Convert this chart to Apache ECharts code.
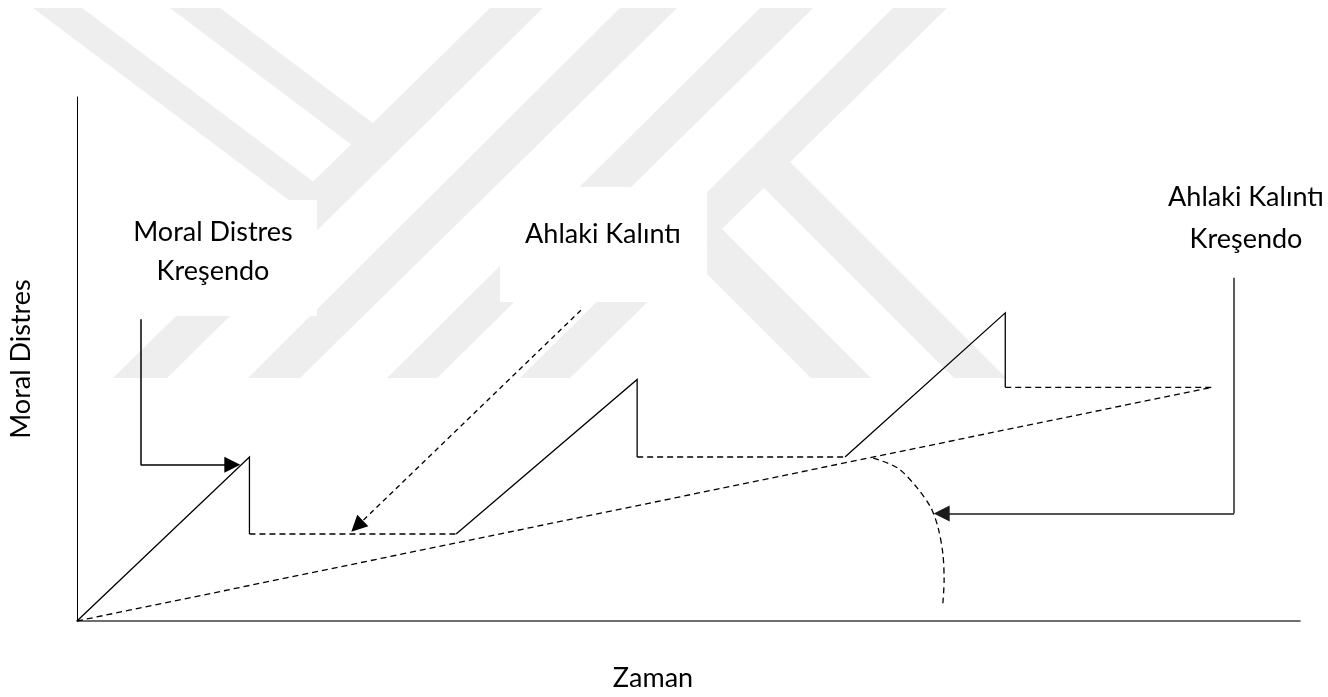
<!DOCTYPE html>
<html>
<head>
<meta charset="utf-8">
<script src="https://cdn.jsdelivr.net/npm/echarts@6/dist/echarts.min.js"></script>
<style>
  html, body { margin: 0; padding: 0; background: #fff; }
  #chart { width: 1328px; height: 697px; }
</style>
</head>
<body>
<div id="chart"></div>
<script>
// time axis 0..100, distress axis 0..100
const rampStartX = [0, 31.0, 62.8];
const peakX = [14.1, 45.8, 75.9];
const peakY = [31.3, 46.1, 58.8];
const plateauY = [16.6, 31.3, 44.6];
const plateauEndX = [31.0, 62.8, 92.8];
const trendLine = [[0, 0], [92.8, 44.6]];
const residueArrow = [[41.2, 59.3], [22.9, 18.1]];
const crescendoArrow = [[5.2, 57.6], [5.2, 29.8], [12.7, 29.8]];
const residueCrescendoArrow = [[94.6, 65.5], [94.6, 20.5], [70.7, 20.5]];
const arcX = [65.1, 67.1, 68.7, 69.8, 70.4, 70.8, 70.9, 70.8];
const arcY = [31.1, 29.2, 25.4, 21.7, 17.9, 12.8, 7.7, 3.4];

const FONT = 'Lato';
const INK = '#000000';

const rampStartY = [0, plateauY[0], plateauY[1]];

const ramps = peakX.map((x, i) => ({
  coords: [[rampStartX[i], rampStartY[i]], [x, peakY[i]], [x, plateauY[i]]]
}));
const plateaus = peakX.map((x, i) => ({
  coords: [[x, plateauY[i]], [plateauEndX[i], plateauY[i]]]
}));
plateaus.push({ coords: trendLine });

function elbow(points) {
  return points.slice(0, -1).map((p, i) => ({ coords: [p, points[i + 1]] }));
}

// background watermark (light grey logo bands) and white text boxes
const wm = '#eeeeee';
const watermark = [
  [[33, 8], [82, 8], [315, 183], [294, 204]],
  [[170, 8], [220, 8], [374, 124], [352, 145]],
  [[490, 8], [543, 8], [167, 378], [113, 378]],
  [[620, 8], [677, 8], [300, 378], [248, 378]],
  [[760, 8], [813, 8], [437, 378], [387, 378]],
  [[893, 8], [947, 8], [570, 378], [520, 378]],
  [[790, 162], [1006, 378], [954, 378], [763, 187]],
  [[720, 227], [871, 378], [811, 378], [694, 261]]
].map((pts) => ({
  type: 'polygon', z: -10, silent: true,
  shape: { points: pts }, style: { fill: wm }
}));

const boxes = [
  { x: 127, y: 200, width: 190, height: 116 },
  { x: 500, y: 187, width: 207, height: 115 }
].map((r) => ({
  type: 'rect', z: -5, silent: true, shape: r, style: { fill: '#ffffff' }
}));

const labelStyle = { fontFamily: FONT, fontSize: 27, fill: INK, textAlign: 'center', textVerticalAlign: 'middle' };
const labels = [
  { x: 213, y: 252, text: 'Moral Distres\nKreşendo', lineHeight: 39 },
  { x: 603, y: 234, text: 'Ahlaki Kalıntı', lineHeight: 39 },
  { x: 1246, y: 218, text: 'Ahlaki Kalıntı\nKreşendo', lineHeight: 42 }
].map((l) => ({
  type: 'text', z: 10, silent: true, x: l.x, y: l.y,
  style: Object.assign({}, labelStyle, { text: l.text, lineHeight: l.lineHeight })
}));

const chart = echarts.init(document.getElementById('chart'), null, { renderer: 'canvas' });
chart.setOption({
  animation: false,
  backgroundColor: '#ffffff',
  grid: { left: 75, right: 28, top: 97, bottom: 69 },
  xAxis: {
    type: 'value', min: 0, max: 100,
    name: 'Zaman', nameLocation: 'middle', nameGap: 44,
    nameTextStyle: { fontFamily: FONT, fontSize: 27, color: INK, padding: [0, 71, 0, 0] },
    axisLine: { show: true, lineStyle: { color: '#404040', width: 1.6 } },
    axisTick: { show: false }, axisLabel: { show: false }, splitLine: { show: false }
  },
  yAxis: {
    type: 'value', min: 0, max: 100,
    name: 'Moral Distres', nameLocation: 'middle', nameGap: 42, nameRotate: 90,
    nameTextStyle: { fontFamily: FONT, fontSize: 27, color: INK },
    axisLine: { show: true, lineStyle: { color: INK, width: 1 } },
    axisTick: { show: false }, axisLabel: { show: false }, splitLine: { show: false }
  },
  graphic: watermark.concat(boxes, labels),
  series: [
    {
      type: 'lines', coordinateSystem: 'cartesian2d', polyline: true,
      lineStyle: { color: INK, width: 1.3, opacity: 1, type: 'solid' },
      data: ramps
    },
    {
      type: 'lines', coordinateSystem: 'cartesian2d', polyline: true,
      lineStyle: { color: INK, width: 1.3, opacity: 1, type: [6, 4] },
      data: plateaus
    },
    {
      type: 'lines', coordinateSystem: 'cartesian2d',
      symbol: ['none', 'triangle'], symbolSize: 16,
      lineStyle: { color: INK, width: 1.3, opacity: 1, type: [5, 4] },
      data: elbow(residueArrow)
    },
    {
      type: 'lines', coordinateSystem: 'cartesian2d',
      symbol: ['none', 'none'],
      lineStyle: { color: INK, width: 1.5, opacity: 1 },
      data: elbow(crescendoArrow).slice(0, -1)
    },
    {
      type: 'lines', coordinateSystem: 'cartesian2d',
      symbol: ['none', 'triangle'], symbolSize: 16,
      lineStyle: { color: INK, width: 1.5, opacity: 1 },
      data: elbow(crescendoArrow).slice(-1)
    },
    {
      type: 'lines', coordinateSystem: 'cartesian2d',
      symbol: ['none', 'none'],
      lineStyle: { color: '#333333', width: 1.6, opacity: 1 },
      data: elbow(residueCrescendoArrow).slice(0, -1)
    },
    {
      type: 'lines', coordinateSystem: 'cartesian2d',
      symbol: ['none', 'triangle'], symbolSize: 16,
      lineStyle: { color: '#1a1a1a', width: 1.6, opacity: 1 },
      data: elbow(residueCrescendoArrow).slice(-1)
    },
    {
      type: 'line', smooth: 0.3, symbol: 'none',
      lineStyle: { color: INK, width: 1.3, type: [6, 4] },
      data: arcX.map((x, i) => [x, arcY[i]])
    }
  ]
});
</script>
</body>
</html>
